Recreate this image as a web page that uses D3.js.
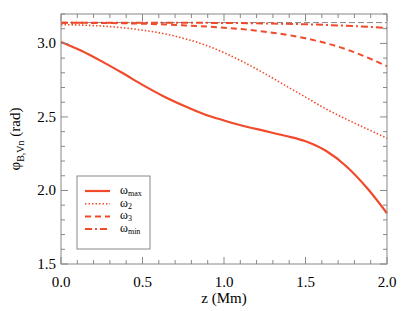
<!DOCTYPE html>
<html><head><meta charset="utf-8">
<script src="https://cdn.jsdelivr.net/npm/d3@7"></script>
<style>body{margin:0;background:#fff}svg{display:block}</style>
</head><body>
<script>
const zMax = [0.0,0.125,0.25,0.375,0.5,0.625,0.75,0.875,1.0,1.125,1.25,1.375,1.5,1.625,1.75,1.875,2.0];
const vMax = [3.01,2.95,2.878,2.80,2.718,2.643,2.578,2.52,2.476,2.437,2.405,2.372,2.335,2.27,2.165,2.02,1.845];
const z2 = [0.0,0.25,0.375,0.5,0.625,0.75,0.875,1.0,1.125,1.25,1.375,1.5,1.625,1.75,1.875,2.0];
const v2 = [3.128,3.118,3.107,3.09,3.068,3.035,2.993,2.937,2.87,2.795,2.715,2.635,2.555,2.485,2.42,2.355];
const z3 = [0.0,0.5,0.75,1.0,1.25,1.5,1.75,2.0];
const v3 = [3.141,3.134,3.123,3.107,3.08,3.035,2.96,2.845];
const zMin = [0.0,0.5,1.0,1.5,1.75,2.0];
const vMin = [3.141,3.141,3.139,3.13,3.12,3.105];
const xTicks = [0.0,0.5,1.0,1.5,2.0];
const yTicks = [1.5,2.0,2.5,3.0];
const legendLabels = [["ω","max"],["ω","2"],["ω","3"],["ω","min"]];
const dashes = [null,"1.5,2","6,4","7,3,2,3"];
const widths = [2.2,1.6,2,2];

const W=407,H=311, L=61,R=387,T=14,B=264;
const col="#f04a2b", axc="#888";
const svg=d3.select("body").append("svg").attr("width",W).attr("height",H)
  .attr("font-family","Liberation Serif, Times New Roman, serif");
const x=d3.scaleLinear().domain([0,2]).range([L,R]);
const y=d3.scaleLinear().domain([1.5,3.2]).range([B,T]);

// reference line at pi
svg.append("line").attr("x1",x(0)).attr("x2",x(2)).attr("y1",y(Math.PI)).attr("y2",y(Math.PI))
  .attr("stroke","#666").attr("stroke-width",0.8).attr("stroke-dasharray","6,3");

const line=d3.line().x(d=>x(d[0])).y(d=>y(d[1])).curve(d3.curveMonotoneX);
const series=[[zMax,vMax],[z2,v2],[z3,v3],[zMin,vMin]];
series.forEach((s,i)=>{
  svg.append("path").datum(s[0].map((z,j)=>[z,s[1][j]])).attr("d",line)
    .attr("fill","none").attr("stroke",col).attr("stroke-width",widths[i])
    .attr("stroke-dasharray",dashes[i]);
});

// axes frame
svg.append("rect").attr("x",L).attr("y",T).attr("width",R-L).attr("height",B-T)
  .attr("fill","none").attr("stroke",axc).attr("stroke-width",1);
const xMinor=d3.range(0,2.0001,0.1), yMinor=d3.range(1.5,3.2001,0.1);
function isMajor(v){return Math.abs(v*2-Math.round(v*2))<1e-6;}
xMinor.forEach(v=>{const len=isMajor(v)?7:4;
  svg.append("line").attr("x1",x(v)).attr("x2",x(v)).attr("y1",B).attr("y2",B-len).attr("stroke",axc);
  svg.append("line").attr("x1",x(v)).attr("x2",x(v)).attr("y1",T).attr("y2",T+len).attr("stroke",axc);});
yMinor.forEach(v=>{const len=isMajor(v)?7:4;
  svg.append("line").attr("x1",L).attr("x2",L+len).attr("y1",y(v)).attr("y2",y(v)).attr("stroke",axc);
  svg.append("line").attr("x1",R).attr("x2",R-len).attr("y1",y(v)).attr("y2",y(v)).attr("stroke",axc);});
xTicks.forEach(v=>svg.append("text").attr("x",x(v)).attr("y",287).attr("text-anchor","middle")
  .attr("font-size",15).text(v.toFixed(1)));
yTicks.forEach(v=>svg.append("text").attr("x",56).attr("y",y(v)+5).attr("text-anchor","end")
  .attr("font-size",15).text(v.toFixed(1)));
svg.append("text").attr("x",x(1)).attr("y",303).attr("text-anchor","middle")
  .attr("font-size",15).text("z (Mm)");
const yl=svg.append("text").attr("transform","translate(20,139) rotate(-90)").attr("text-anchor","middle")
  .attr("font-size",15);
yl.append("tspan").text("φ");
yl.append("tspan").attr("font-size",10).attr("dy",4).text("B,Vn");
yl.append("tspan").attr("dy",-4).text(" (rad)");

// legend
svg.append("rect").attr("x",77).attr("y",176).attr("width",73).attr("height",73)
  .attr("fill","#fff").attr("stroke",axc).attr("stroke-width",1);
legendLabels.forEach((lab,i)=>{
  const yy=191+i*12.7;
  svg.append("line").attr("x1",85).attr("x2",110).attr("y1",yy).attr("y2",yy)
    .attr("stroke",col).attr("stroke-width",widths[i]).attr("stroke-dasharray",dashes[i]);
  const t=svg.append("text").attr("x",120).attr("y",yy+3).attr("font-size",12);
  t.append("tspan").text(lab[0]);
  t.append("tspan").attr("font-size",8).attr("dy",2).text(lab[1]);
});
</script>
</body></html>
